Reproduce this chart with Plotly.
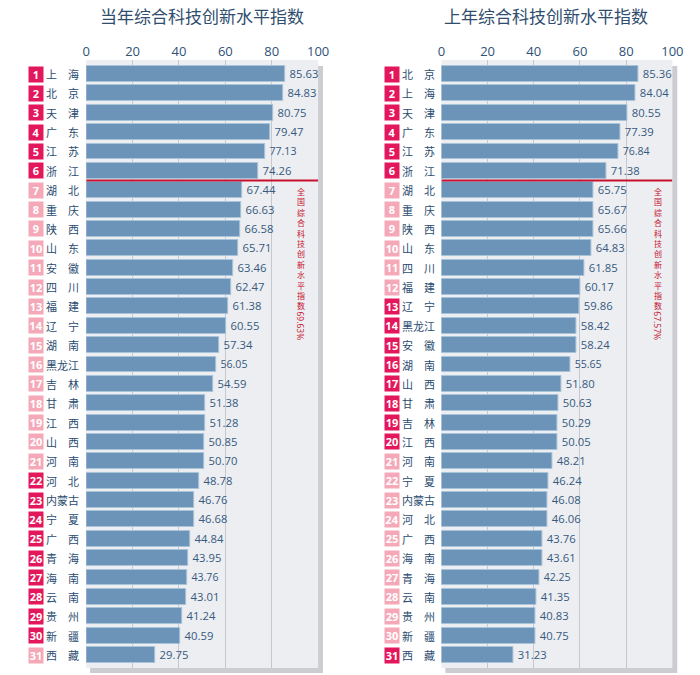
import plotly.graph_objects as go

# ---------------- data ----------------
cur_names = ["上海", "北京", "天津", "广东", "江苏", "浙江", "湖北", "重庆", "陕西", "山东",
             "安徽", "四川", "福建", "辽宁", "湖南", "黑龙江", "吉林", "甘肃", "江西", "山西",
             "河南", "河北", "内蒙古", "宁夏", "广西", "青海", "海南", "云南", "贵州", "新疆", "西藏"]
cur_values = [85.63, 84.83, 80.75, 79.47, 77.13, 74.26, 67.44, 66.63, 66.58, 65.71,
              63.46, 62.47, 61.38, 60.55, 57.34, 56.05, 54.59, 51.38, 51.28, 50.85,
              50.70, 48.78, 46.76, 46.68, 44.84, 43.95, 43.76, 43.01, 41.24, 40.59, 29.75]
cur_group = [1, 1, 1, 1, 1, 1, 0, 0, 0, 0, 0, 0, 0, 0, 0, 0, 0, 0, 0, 0,
             0, 1, 1, 1, 1, 1, 1, 1, 1, 1, 0]
cur_national = "69.63%"

prev_names = ["北京", "上海", "天津", "广东", "江苏", "浙江", "湖北", "重庆", "陕西", "山东",
              "四川", "福建", "辽宁", "黑龙江", "安徽", "湖南", "山西", "甘肃", "吉林", "江西",
              "河南", "宁夏", "内蒙古", "河北", "广西", "海南", "青海", "云南", "贵州", "新疆", "西藏"]
prev_values = [85.36, 84.04, 80.55, 77.39, 76.84, 71.38, 65.75, 65.67, 65.66, 64.83,
               61.85, 60.17, 59.86, 58.42, 58.24, 55.65, 51.80, 50.63, 50.29, 50.05,
               48.21, 46.24, 46.08, 46.06, 43.76, 43.61, 42.25, 41.35, 40.83, 40.75, 31.23]
prev_group = [1, 1, 1, 1, 1, 1, 0, 0, 0, 0, 0, 0, 1, 1, 1, 1, 1, 1, 1, 1,
              0, 0, 0, 0, 0, 0, 0, 0, 0, 0, 1]
prev_national = "67.57%"

titles = ["当年综合科技创新水平指数", "上年综合科技创新水平指数"]
x_ticks = [0, 20, 40, 60, 80, 100]
national_label = "全国综合科技创新水平指数"
top_n = 6

# ---------------- styling ----------------
W, H = 700, 675
BAR = "#6b94b8"
BAR_EDGE = "#a9c3d9"
DARK = "#e3175b"
LIGHT = "#f5a9b8"
NAME_C = "#2b4c70"
VAL_C = "#37597f"
RED = "#c8102e"
FONT = "Open Sans, Noto Sans CJK SC, sans-serif"
CJK = "Noto Sans CJK SC, sans-serif"


def px(x):
    return x / W


def py(y):
    return 1 - y / H


panels = [
    dict(names=cur_names, values=cur_values, group=cur_group, nat=cur_national,
         x0=84, x1=321, badge=33, name=60, red=303, title=202, xa="x", ya="y"),
    dict(names=prev_names, values=prev_values, group=prev_group, nat=prev_national,
         x0=447, x1=683, badge=396.5, name=423.5, red=668, title=554, xa="x2", ya="y2"),
]
top_px, bot_px = 60, 668
n = len(cur_names)
rank = list(range(1, n + 1))

fig = go.Figure()
shapes = []
annotations = []


def ann(**kw):
    kw.setdefault("showarrow", False)
    kw.setdefault("xanchor", "center")
    kw.setdefault("yanchor", "middle")
    annotations.append(kw)


for i, p in enumerate(panels):
    fig.add_trace(go.Bar(
        x=p["values"], y=rank, orientation="h",
        xaxis=p["xa"], yaxis=p["ya"], width=0.82,
        marker=dict(color=BAR, line=dict(color=BAR_EDGE, width=1)),
        text=["\u2009" + f"{v:.2f}" for v in p["values"]], textposition="outside",
        textfont=dict(color=VAL_C, size=12, family=FONT),
        cliponaxis=False, showlegend=False, hoverinfo="x+y",
    ))
    shapes.append(dict(type="rect", xref="paper", yref="paper", layer="below",
                       x0=px(p["x0"] + 4), x1=px(p["x1"] + 5), y0=py(bot_px + 5), y1=py(top_px + 6),
                       fillcolor="#cbcdd0", line=dict(width=0)))
    shapes.append(dict(type="rect", xref="paper", yref="paper", layer="below",
                       x0=px(p["x0"]), x1=px(p["x1"]), y0=py(bot_px), y1=py(top_px),
                       fillcolor="#eceef1", line=dict(width=0)))
    xr = p["xa"]
    yr = p["ya"]
    shapes.append(dict(type="line", xref=xr, yref=yr, x0=0, x1=100,
                       y0=top_n + 0.5, y1=top_n + 0.5, line=dict(color=RED, width=2)))
    for r, nm, g in zip(rank, p["names"], p["group"]):
        ann(xref="paper", yref=yr, x=px(p["badge"]), y=r, text=f"<b>{r}</b>",
            bgcolor=DARK if g else LIGHT, width=14, height=15, borderpad=0,
            font=dict(color="white", size=11, family=FONT))
        label = nm if len(nm) > 2 else nm[0] + "\u3000" + nm[1]
        ann(xref="paper", yref=yr, x=px(p["name"]), y=r, text=label,
            font=dict(color=NAME_C, size=11, family=CJK))
    ann(xref="paper", yref="paper", x=px(p["red"]), y=py(184), yanchor="top",
        text="<br>".join(national_label),
        font=dict(color=RED, size=8, family=CJK))
    ann(xref="paper", yref="paper", x=px(p["red"]), y=py(326),
        text=p["nat"], textangle=90, font=dict(color=RED, size=8.5, family=FONT))
    ann(xref="paper", yref="paper", x=px(p["title"]), y=py(16), text=titles[i],
        font=dict(color="#2f4d6e", size=17, family=CJK))

step = (655 - 74) / (n - 1)
y_top = 1 - (74 - top_px) / step
y_bot = n + (bot_px - 655) / step

axis_x = dict(range=[0, 100], side="top", tickvals=x_ticks, showgrid=True,
              gridcolor="#c5c9cf", gridwidth=1, zeroline=False, showline=False,
              ticks="", tickfont=dict(color="#2f5277", size=13, family=FONT),
              fixedrange=True)
axis_y = dict(range=[y_bot, y_top], showticklabels=False, showgrid=False,
              zeroline=False, showline=False, fixedrange=True)

fig.update_layout(
    width=W, height=H, margin=dict(l=0, r=0, t=0, b=0),
    paper_bgcolor="white", plot_bgcolor="rgba(0,0,0,0)",
    bargap=0,
    xaxis=dict(axis_x, domain=[px(84), px(321)], anchor="y"),
    yaxis=dict(axis_y, domain=[py(bot_px), py(top_px)], anchor="x"),
    xaxis2=dict(axis_x, domain=[px(447), px(683)], anchor="y2"),
    yaxis2=dict(axis_y, domain=[py(bot_px), py(top_px)], anchor="x2"),
    shapes=shapes, annotations=annotations,
    font=dict(family=FONT),
)

fig.write_html("out.html", config={"displayModeBar": False},
               post_script="document.body.style.margin='0px';")
